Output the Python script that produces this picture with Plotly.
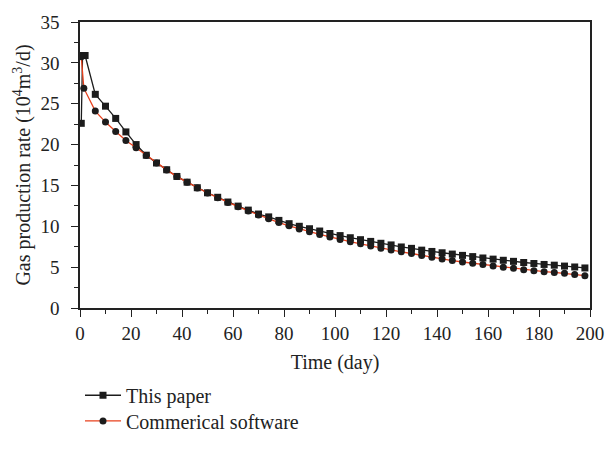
import plotly.graph_objects as go

# Simulated gas production rate vs time
paper_days = [0.5, 1, 2, 6, 10, 14, 18, 22, 26, 30, 34, 38, 42, 46, 50, 54, 58, 62, 66,
              70, 74, 78, 82, 86, 90, 94, 98, 102, 106, 110, 114, 118, 122, 126, 130,
              134, 138, 142, 146, 150, 154, 158, 162, 166, 170, 174, 178, 182, 186,
              190, 194, 198]
paper_rate = [22.6, 30.9, 30.9, 26.15, 24.7, 23.2, 21.55, 20.0, 18.7, 17.75, 16.92,
              16.1, 15.4, 14.72, 14.1, 13.55, 12.97, 12.47, 11.98, 11.5, 11.15, 10.72,
              10.32, 10.0, 9.7, 9.42, 9.12, 8.86, 8.6, 8.36, 8.15, 7.92, 7.72, 7.47,
              7.3, 7.08, 6.92, 6.76, 6.6, 6.44, 6.29, 6.12, 5.98, 5.84, 5.71, 5.57,
              5.45, 5.33, 5.24, 5.13, 5.02, 4.9]

software_days = [0.5, 1.5, 6, 10, 14, 18, 22, 26, 30, 34, 38, 42, 46, 50, 54, 58, 62,
                 66, 70, 74, 78, 82, 86, 90, 94, 98, 102, 106, 110, 114, 118, 122, 126,
                 130, 134, 138, 142, 146, 150, 154, 158, 162, 166, 170, 174, 178, 182,
                 186, 190, 194, 198]
software_rate = [30.75, 26.9, 24.1, 22.75, 21.6, 20.5, 19.6, 18.67, 17.73, 16.9, 16.08,
                 15.38, 14.7, 14.07, 13.5, 12.9, 12.4, 11.88, 11.38, 10.93, 10.45, 10.06,
                 9.68, 9.33, 9.0, 8.7, 8.37, 8.11, 7.85, 7.6, 7.32, 7.1, 6.87, 6.67,
                 6.43, 6.22, 6.0, 5.8, 5.63, 5.48, 5.33, 5.14, 4.98, 4.86, 4.67, 4.55,
                 4.44, 4.35, 4.24, 4.1, 3.95]

series_names = ["This paper", "Commerical software"]

FONT = "Liberation Serif, Times New Roman, serif"
INK = "#1c1c1c"
TEXT = "#222"

fig = go.Figure()
fig.add_trace(go.Scatter(
    x=paper_days, y=paper_rate, name=series_names[0], mode="lines+markers",
    line=dict(color=INK, width=1.3),
    marker=dict(symbol="square", size=7, color=INK),
    legend="legend",
))
fig.add_trace(go.Scatter(
    x=software_days, y=software_rate, name=series_names[1], mode="lines+markers",
    line=dict(color="#e8401c", width=1.3),
    marker=dict(symbol="circle", size=7, color=INK),
    legend="legend2",
))

axis_common = dict(
    showline=True, linecolor=TEXT, linewidth=1.5, mirror=True,
    ticks="outside", ticklen=7, tickwidth=1.2, tickcolor=TEXT,
    showgrid=False, zeroline=False,
    tickfont=dict(family=FONT, size=19, color=TEXT),
)

fig.update_xaxes(
    range=[0, 200], dtick=20, tick0=0,
    minor=dict(dtick=10, ticks="outside", ticklen=4, tickwidth=1.2, tickcolor=TEXT),
    title=dict(text="Time (day)", font=dict(family=FONT, size=20, color=TEXT), standoff=12),
    **axis_common,
)
fig.update_yaxes(
    range=[0, 35], dtick=5, tick0=0, ticklabelstandoff=8,
    minor=dict(dtick=2.5, ticks="outside", ticklen=4, tickwidth=1.2, tickcolor=TEXT),
    title=dict(text="Gas production rate (10<sup>4</sup>m<sup>3</sup>/d)",
               font=dict(family=FONT, size=20, color=TEXT), standoff=4),
    **axis_common,
)

legend_common = dict(
    x=0.0, xanchor="left", yanchor="middle",
    bgcolor="rgba(0,0,0,0)",
    font=dict(family=FONT, size=20, color=TEXT),
    itemwidth=36,
)

fig.update_layout(
    width=616, height=453,
    margin=dict(l=80, r=15, t=19, b=132),
    plot_bgcolor="white", paper_bgcolor="white",
    font=dict(family=FONT, size=20, color=TEXT),
    showlegend=True,
    legend=dict(y=-0.305, **legend_common),
    legend2=dict(y=-0.395, **legend_common),
)

fig.write_html("out.html")
